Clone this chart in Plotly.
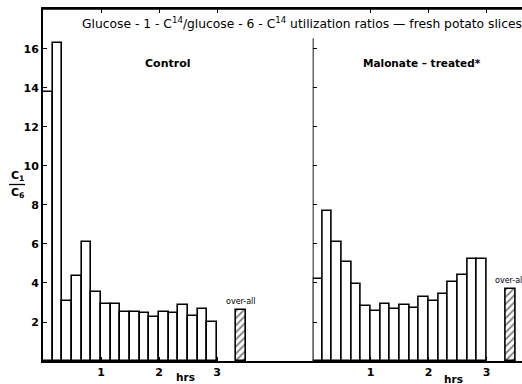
import plotly.graph_objects as go

# 10-minute intervals (hours), bar centres
interval_hrs = [(i + 0.5) / 6 for i in range(18)]
bar_width = 1 / 6

control_ratio = [13.8, 16.3, 3.09, 4.36, 6.08, 3.52, 2.92, 2.92, 2.53, 2.53,
                 2.48, 2.24, 2.51, 2.48, 2.87, 2.31, 2.67, 2.02]
malonate_ratio = [4.21, 7.69, 6.09, 5.09, 3.93, 2.80, 2.58, 2.92, 2.67, 2.87,
                  2.74, 3.28, 3.09, 3.45, 4.05, 4.41, 5.21, 5.25]

overall_x = 3.41
overall_width = 0.175
control_overall = 2.62
malonate_overall = 3.68

hr_ticks = [1, 2, 3]
y_ticks = [2, 4, 6, 8, 10, 12, 14, 16]

FONT = "DejaVu Sans"
W, H = 522, 384
ML, MR, MT, MB = 43, 0, 9, 23
px_per_hr = 58.0
split_px = 312.7
pw = W - ML - MR
ph = H - MT - MB
d1 = (split_px - ML) / pw
x1_range = [0, (split_px - ML) / px_per_hr]
x2_range = [0, (W - MR - split_px) / px_per_hr]
y_range = [0, 18.05]

fig = go.Figure()

bar_style = dict(marker=dict(color="white", line=dict(color="black", width=1.6)),
                 width=bar_width, showlegend=False, hoverinfo="skip")
fig.add_trace(go.Bar(x=interval_hrs, y=control_ratio, xaxis="x", yaxis="y", **bar_style))
fig.add_trace(go.Bar(x=interval_hrs, y=malonate_ratio, xaxis="x2", yaxis="y2", **bar_style))

hatch = dict(color="white", line=dict(color="black", width=1.6),
             pattern=dict(shape="/", fgcolor="black", bgcolor="white", size=5, solidity=0.35))
fig.add_trace(go.Bar(x=[overall_x], y=[control_overall], width=overall_width,
                     xaxis="x", yaxis="y", marker=hatch, showlegend=False, hoverinfo="skip"))
fig.add_trace(go.Bar(x=[overall_x], y=[malonate_overall], width=overall_width,
                     xaxis="x2", yaxis="y2", marker=hatch, showlegend=False, hoverinfo="skip"))

tickfont = dict(family=FONT, size=11, color="black", weight="bold")
# bottom ticks point up and coincide with bar edges; mirrored to the top frame
xcommon = dict(tickvals=hr_ticks, ticktext=[str(t) for t in hr_ticks],
               ticks="inside", ticklen=4, tickwidth=1.2, tickcolor="black",
               showline=True, mirror="ticks", linecolor="black", linewidth=1.8, showgrid=False,
               zeroline=False, tickfont=tickfont, fixedrange=True)

fig.update_layout(
    width=W, height=H,
    margin=dict(l=ML, r=MR, t=MT, b=MB, pad=0),
    paper_bgcolor="white", plot_bgcolor="white",
    bargap=0,
    xaxis=dict(domain=[0, d1], range=x1_range, anchor="y", **xcommon),
    xaxis2=dict(domain=[d1, 1], range=x2_range, anchor="y2", **xcommon),
    yaxis=dict(range=y_range, tickvals=y_ticks, ticks="inside", ticklen=4, tickwidth=1.2,
               tickcolor="black", showline=True, linecolor="black", linewidth=1.8,
               showgrid=False, zeroline=False, tickfont=tickfont, anchor="x"),
    yaxis2=dict(range=y_range, matches="y", tickvals=y_ticks, ticks="inside", ticklen=4,
                tickwidth=1.2, tickcolor="black", showticklabels=False, showline=False,
                showgrid=False, zeroline=False, anchor="x2"),
    font=dict(family=FONT, color="black"),
)

# top frame line across both panels
fig.add_shape(type="line", xref="paper", yref="paper", x0=0, x1=1, y0=1, y1=1,
              line=dict(color="black", width=1.6))
# right panel vertical axis line (stops below the title)
fig.add_shape(type="line", xref="x2", yref="y2", x0=0, x1=0, y0=0, y1=16.55,
              line=dict(color="black", width=1.8))

def paper_x(px):
    return (px - ML) / pw

def paper_y(py):
    return (H - MB - py) / ph

ann = []
ann.append(dict(text="Glucose - 1 - C<sup>14</sup>/glucose - 6 - C<sup>14</sup> utilization ratios \u2014 fresh potato slices",
                xref="paper", yref="paper", x=paper_x(80), y=paper_y(23), xanchor="left", yanchor="middle",
                showarrow=False, font=dict(family=FONT, size=12.3, color="black")))
ann.append(dict(text="Control", xref="paper", yref="paper", x=paper_x(167), y=paper_y(63),
                xanchor="center", yanchor="middle", showarrow=False,
                font=dict(family=FONT, size=11, color="black", weight="bold")))
ann.append(dict(text="Malonate \u2013 treated*", xref="paper", yref="paper", x=paper_x(422), y=paper_y(63),
                xanchor="center", yanchor="middle", showarrow=False,
                font=dict(family=FONT, size=10.5, color="black", weight="bold")))
ann.append(dict(text="over-all", xref="x", yref="y", x=overall_x, y=control_overall + 0.1,
                xanchor="center", yanchor="bottom", showarrow=False,
                font=dict(family=FONT, size=8, color="black")))
ann.append(dict(text="over-all", xref="x2", yref="y2", x=overall_x, y=malonate_overall + 0.1,
                xanchor="center", yanchor="bottom", showarrow=False,
                font=dict(family=FONT, size=8, color="black")))
ann.append(dict(text="hrs", xref="x", yref="paper", x=2.45, y=paper_y(377),
                xanchor="center", yanchor="middle", showarrow=False,
                font=dict(family=FONT, size=10.5, color="black", weight="bold")))
ann.append(dict(text="hrs", xref="x2", yref="paper", x=2.42, y=paper_y(379),
                xanchor="center", yanchor="middle", showarrow=False,
                font=dict(family=FONT, size=10.5, color="black", weight="bold")))
ann.append(dict(text="C<sub>1</sub>", xref="paper", yref="paper", x=paper_x(17), y=paper_y(176),
                xanchor="center", yanchor="middle", showarrow=False,
                font=dict(family=FONT, size=11, color="black", weight="bold")))
ann.append(dict(text="C<sub>6</sub>", xref="paper", yref="paper", x=paper_x(17), y=paper_y(193),
                xanchor="center", yanchor="middle", showarrow=False,
                font=dict(family=FONT, size=11, color="black", weight="bold")))
fig.update_layout(annotations=ann)
fig.add_shape(type="line", xref="paper", yref="paper", x0=paper_x(9), x1=paper_x(25),
              y0=paper_y(184.5), y1=paper_y(184.5), line=dict(color="black", width=1.3))

fig.write_html("out.html", config={"displayModeBar": False},
               post_script="document.body.style.margin='0';document.body.style.overflow='hidden';")
